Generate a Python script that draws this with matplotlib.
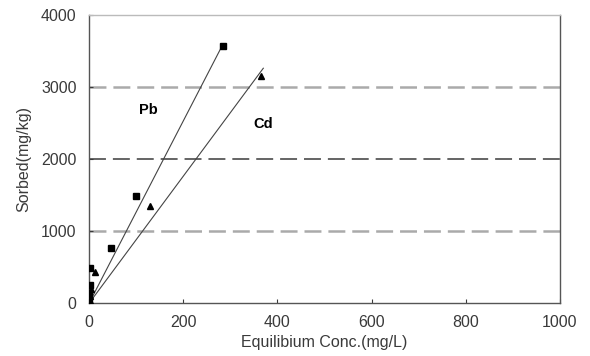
import matplotlib.pyplot as plt

plt.rcParams["font.family"] = ["Liberation Sans", "DejaVu Sans"]

# measured points
pb_x = [285, 100, 47, 2, 1, 0.5, 0]
pb_y = [3570, 1490, 760, 490, 250, 120, 40]
cd_x = [365, 130, 12, 4, 2, 1]
cd_y = [3150, 1350, 430, 200, 90, 30]

# fitted lines (end points)
pb_fit_x = [5, 284]
pb_fit_y = [60, 3590]
cd_fit_x = [5, 370]
cd_fit_y = [40, 3260]

grid_levels = [1000, 2000, 3000]
grid_colors = ["#aaaaaa", "#4a4a4a", "#aaaaaa"]
grid_widths = [1.8, 1.2, 1.8]

fig = plt.figure(figsize=(5.9, 3.56), dpi=100)
ax = fig.add_axes([0.151, 0.149, 0.798, 0.809])

for lvl, c, w in zip(grid_levels, grid_colors, grid_widths):
    # dash length kept at ~17px / gap ~7px whatever the width
    ax.axhline(lvl, color=c, lw=w, dashes=(12.2 / w, 5.0 / w), zorder=1)

ax.plot(pb_fit_x, pb_fit_y, color="#444444", lw=0.8, zorder=2)
ax.plot(cd_fit_x, cd_fit_y, color="#444444", lw=0.8, zorder=2)
ax.plot(pb_x, pb_y, "s", color="black", ms=4, zorder=3)
ax.plot(cd_x, cd_y, "^", color="black", ms=4.5, zorder=3)

ax.text(125, 2680, "Pb", fontsize=10.5, fontweight="bold", ha="center", va="center")
ax.text(370, 2480, "Cd", fontsize=10.5, fontweight="bold", ha="center", va="center")

ax.set_xlim(0, 1000)
ax.set_ylim(0, 4000)
ax.set_xticks([0, 200, 400, 600, 800, 1000])
ax.set_yticks([0, 1000, 2000, 3000, 4000])
ax.tick_params(direction="in", labelsize=11.5, colors="#3a3a3a", length=3)
ax.tick_params(axis="x", pad=9)
ax.tick_params(axis="y", pad=9)
for s in ax.spines.values():
    s.set_color("#555555")
    s.set_linewidth(1.0)
ax.spines["top"].set_color("#bbbbbb")

ax.set_xlabel("Equilibium Conc.(mg/L)", fontsize=11.5, color="#3a3a3a", labelpad=3)
ax.set_ylabel("Sorbed(mg/kg)", fontsize=11.5, color="#3a3a3a", labelpad=7)

plt.savefig("out.png", dpi=100)
